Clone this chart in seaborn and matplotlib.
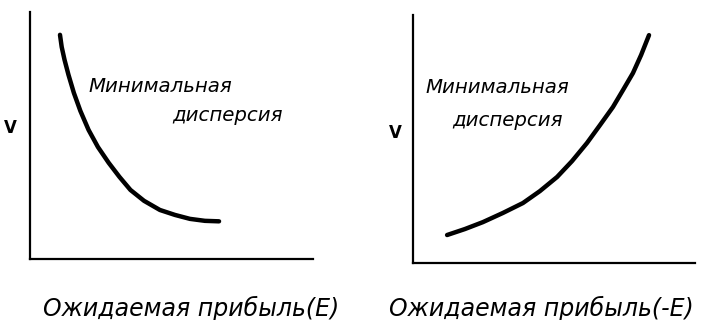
import matplotlib
matplotlib.use("Agg")
import matplotlib.pyplot as plt
import seaborn as sns
import pandas as pd

# curves (arbitrary units, axes 0..100)
left_x = [10.6, 11.2, 12.2, 13.6, 15.5, 17.8, 20.7, 24.0, 27.8, 31.6,
          35.5, 40.3, 45.9, 51.2, 56.5, 61.8, 66.8]
left_v = [90.7, 85.8, 80.6, 74.5, 67.2, 59.9, 52.2, 45.3, 38.9, 33.2,
          27.9, 23.5, 19.8, 17.8, 16.2, 15.4, 15.2]

right_x = [12.1, 18.4, 24.8, 31.9, 39.0, 45.0, 51.1, 56.4, 61.7, 66.3,
           70.9, 74.5, 78.0, 80.9, 83.7]
right_v = [11.3, 13.7, 16.5, 20.2, 24.2, 29.0, 34.7, 41.1, 48.4, 55.6,
           62.9, 69.8, 76.6, 83.9, 91.9]

curve_label = ["Минимальная", "дисперсия"]
y_label = "V"
x_labels = ["Ожидаемая прибыль(E)", "Ожидаемая прибыль(-E)"]

sns.set_style("white")
plt.rcParams['font.family'] = ['DejaVu Sans']
plt.rcParams['text.color'] = 'black'

fig = plt.figure(figsize=(7.04, 3.2), dpi=100)
ax1 = fig.add_axes([0.0426, 0.191, 0.402, 0.772])
ax2 = fig.add_axes([0.5866, 0.178, 0.4006, 0.775])

df_left = pd.DataFrame({"E": left_x, "V": left_v})
df_right = pd.DataFrame({"E": right_x, "V": right_v})

sns.lineplot(data=df_left, x="E", y="V", ax=ax1, color="black", linewidth=3.2,
             solid_capstyle="round", solid_joinstyle="round", sort=False)
sns.lineplot(data=df_right, x="E", y="V", ax=ax2, color="black", linewidth=3.2,
             solid_capstyle="round", solid_joinstyle="round", sort=False)

for ax in (ax1, ax2):
    ax.set_xlim(0, 100)
    ax.set_ylim(0, 100)
    ax.set_xticks([])
    ax.set_yticks([])
    ax.set_xlabel("")
    ax.set_ylabel("")
    sns.despine(ax=ax)
    for s in ("left", "bottom"):
        ax.spines[s].set_color("black")
        ax.spines[s].set_linewidth(1.6)

txt = dict(color="black", style="italic", fontsize=14.2, va="center")
ax1.text(20.5, 69.6, curve_label[0], ha="left", **txt)
ax1.text(50.2, 57.9, curve_label[1], ha="left", **txt)
ax2.text(4.3, 70.6, curve_label[0], ha="left", **txt)
ax2.text(13.8, 57.3, curve_label[1], ha="left", **txt)

ax1.text(-0.07, 0.53, y_label, transform=ax1.transAxes, fontsize=12,
         fontweight="bold", color="black", ha="center", va="center")
ax2.text(-0.064, 0.524, y_label, transform=ax2.transAxes, fontsize=12,
         fontweight="bold", color="black", ha="center", va="center")

fig.text(0.061, 0.0375, x_labels[0], fontsize=17, style="italic",
         color="black", ha="left", va="center")
fig.text(0.5526, 0.0375, x_labels[1], fontsize=17, style="italic",
         color="black", ha="left", va="center")

fig.savefig("out.png", dpi=100, facecolor="white")
